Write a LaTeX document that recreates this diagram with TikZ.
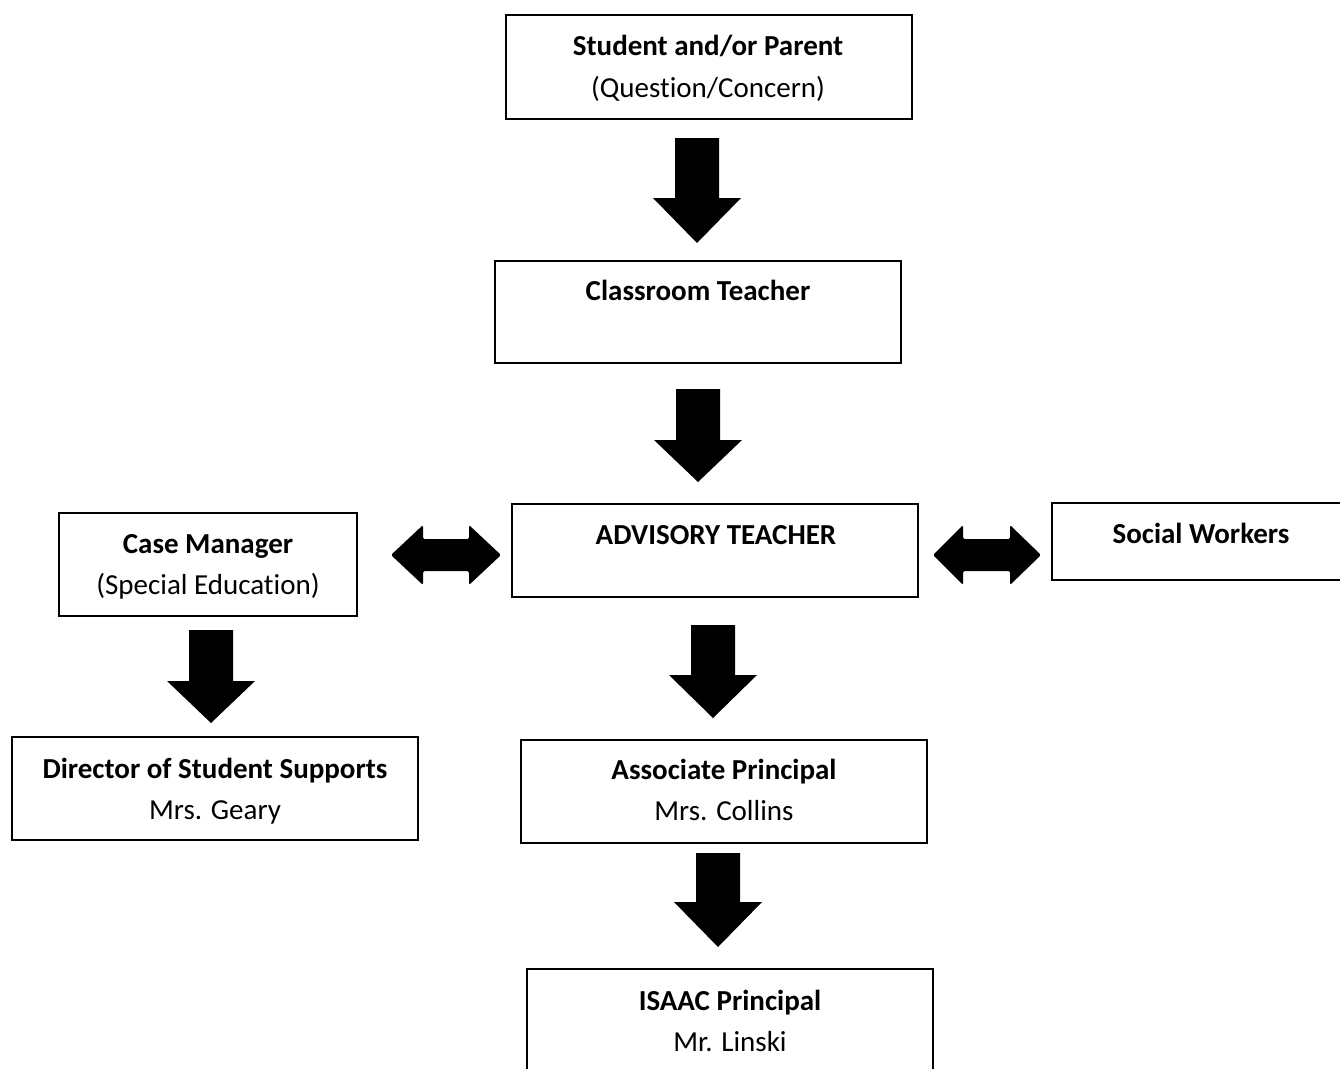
\documentclass[tikz,border=0pt]{standalone}
\usepackage{fontspec}
\setmainfont{Carlito}[Ligatures=NoCommon]
\newcommand\fatdown[4]{% cx, top, base, tip
  \fill[black] (#1-22,#2) -- (#1+22,#2) -- (#1+22,#3) -- (#1+44,#3) -- (#1,#4)
    -- (#1-44,#3) -- (#1-22,#3) -- cycle;}
\newcommand\fatboth[5]{% lefttip, leftbase, rightbase, righttip, cy
  \fill[black, rounded corners=1.5pt] (#1,#5) -- (#2,#5-30) -- (#2,#5-16) -- (#3,#5-16) -- (#3,#5-30)
    -- (#4,#5) -- (#3,#5+30) -- (#3,#5+16) -- (#2,#5+16) -- (#2,#5+30) -- cycle;}
\begin{document}
\begin{tikzpicture}[x=1pt,y=-1pt,
  box/.style={draw, line width=1.5pt, rectangle, inner sep=0pt, minimum width=406pt},
  lbl/.style={inner sep=0pt, text height=0.72em, text depth=0.22em, font=\fontsize{29}{35}\selectfont},
  blbl/.style={lbl, font=\fontsize{29}{35}\selectfont\bfseries}]
\useasboundingbox (0,0) rectangle (1340,1068);
% boxes
\node[box, minimum height=104pt] (b1) at (709,67) {};
\node[box, minimum height=102pt] (b2) at (698,312) {};
\node[box, minimum height=93pt] (b3) at (715,550.5) {};
\node[box, minimum width=294pt, minimum height=77pt] (sw) at (1199,541.5) {};
\node[box, minimum width=298pt, minimum height=103pt] (cm) at (208,564.5) {};
\node[box, minimum height=103pt] (dir) at (215,788.5) {};
\node[box, minimum height=103pt] (ap) at (724,791.5) {};
\node[box, minimum height=104pt] (isaac) at (730,1021) {};
% texts
\node[blbl] (t1a) at (708,53) {Student and/or Parent};
\node[lbl] (t1b) at (708,95) {(Question/Concern)};
\node[blbl] (t2) at (698,298) {Classroom Teacher};
\node[blbl] (t3) at (716,542) {ADVISORY TEACHER};
\node[blbl] (tsw) at (1201,541) {Social Workers};
\node[blbl] (tcma) at (208,551) {Case Manager};
\node[lbl] (tcmb) at (208,592) {(Special Education)};
\node[blbl] (tda) at (215,776) {Director of Student Supports};
\node[lbl] (tdb) at (215,817) {Mrs. Geary};
\node[blbl] (taa) at (724,777) {Associate Principal};
\node[lbl] (tab) at (724,818) {Mrs. Collins};
\node[blbl] (tia) at (730,1008) {ISAAC Principal};
\node[lbl] (tib) at (730,1049) {Mr. Linski};
% block arrows
\fatdown{697}{138}{198}{243}
\fatdown{698}{389}{440}{482}
\fatdown{211}{630}{681}{723}
\fatdown{713}{625}{675}{718}
\fatdown{718}{853}{902}{947}
\fatboth{391}{423}{469}{501}{555}
\fatboth{933}{963}{1010}{1041}{555}
\end{tikzpicture}
\end{document}
